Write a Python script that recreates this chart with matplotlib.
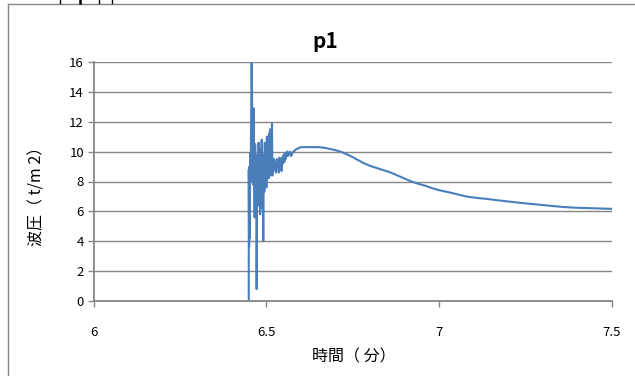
import matplotlib
matplotlib.use("Agg")
import matplotlib.pyplot as plt
from matplotlib.lines import Line2D

plt.rcParams['font.family'] = ['Noto Sans CJK JP', 'DejaVu Sans']

# Wave pressure record p1: time (minutes) vs pressure (t/m2)
time_min = [
    6.4490, 6.4491, 6.4500, 6.4510, 6.4520, 6.4532, 6.4545, 6.4560, 6.4575,
    6.4585, 6.4595, 6.4605, 6.4618, 6.4630, 6.4645, 6.4660, 6.4675, 6.4690,
    6.4705, 6.4718, 6.4730, 6.4745, 6.4760, 6.4775, 6.4790, 6.4805, 6.4820,
    6.4835, 6.4850, 6.4865, 6.4880, 6.4895, 6.4910, 6.4925, 6.4940, 6.4955,
    6.4970, 6.4985, 6.5000, 6.5015, 6.5030, 6.5045, 6.5060, 6.5075, 6.5090,
    6.5105, 6.5120, 6.5135, 6.5150, 6.5163, 6.5175, 6.5190, 6.5205, 6.5220,
    6.5240, 6.5260, 6.5280, 6.5300, 6.5320, 6.5340, 6.5360, 6.5380, 6.5400,
    6.5420, 6.5440, 6.5460, 6.5480, 6.5500, 6.5520, 6.5540, 6.5560, 6.5580,
    6.5600, 6.5620, 6.5650, 6.5680, 6.5710, 6.5740, 6.5770, 6.5800, 6.5830,
    6.5860, 6.5900, 6.5950, 6.6000, 6.6100, 6.6200, 6.6300, 6.6400, 6.6500,
    6.6600, 6.6700, 6.6800, 6.6900, 6.7000, 6.7100, 6.7200, 6.7300, 6.7400,
    6.7500, 6.7600, 6.7700, 6.7800, 6.7900, 6.8000, 6.8200, 6.8400, 6.8600,
    6.8800, 6.9000, 6.9200, 6.9400, 6.9600, 6.9800, 7.0000, 7.0300, 7.0600,
    7.0800, 7.1100, 7.1400, 7.1700, 7.2000, 7.2400, 7.2800, 7.3200, 7.3600,
    7.4000, 7.4400, 7.4800, 7.5000,
]
pressure = [
    0.0, 8.8, 3.6, 9.0, 4.2, 9.9, 8.0, 12.5, 16.0,
    13.8, 9.0, 11.5, 7.8, 12.9, 9.2, 5.6, 10.5, 6.0,
    9.6, 0.8, 5.8, 9.8, 6.4, 10.6, 7.2, 10.2, 5.8,
    9.4, 7.0, 10.8, 6.2, 9.5, 4.0, 9.8, 7.3, 10.6,
    8.0, 10.3, 7.6, 11.0, 8.6, 10.5, 8.2, 11.2, 8.8,
    11.5, 8.4, 10.4, 9.0, 11.9, 8.4, 9.4, 8.7, 9.5,
    8.8, 9.3, 8.6, 9.5, 9.0, 9.4, 8.6, 9.6, 9.1,
    9.4, 8.7, 9.6, 9.2, 9.8, 9.3, 9.9, 9.5, 9.7,
    10.0, 9.7, 9.9, 10.0, 9.7, 9.8, 10.0, 10.0, 10.1,
    10.15, 10.2, 10.25, 10.3, 10.3, 10.3, 10.3, 10.3, 10.3,
    10.28, 10.25, 10.2, 10.15, 10.1, 10.03, 9.95, 9.85, 9.75,
    9.63, 9.5, 9.38, 9.25, 9.15, 9.05, 8.9, 8.75, 8.6,
    8.4, 8.2, 8.0, 7.85, 7.72, 7.55, 7.42, 7.27, 7.1,
    6.99, 6.9, 6.83, 6.74, 6.66, 6.56, 6.47, 6.38, 6.29,
    6.24, 6.21, 6.18, 6.17,
]

x_ticks = [6, 6.5, 7, 7.5]
x_tick_labels = ['6', '6.5', '7', '7.5']
y_ticks = [0, 2, 4, 6, 8, 10, 12, 14, 16]

W, H = 635, 376
fig = plt.figure(figsize=(W / 100, H / 100), dpi=100)
fig.patch.set_facecolor('white')

ax = fig.add_axes([93.7 / W, 1 - 301 / H, (611.7 - 93.7) / W, (301 - 62) / H])
ax.plot(time_min, pressure, color='#4A7EBB', lw=1.5, solid_joinstyle='round')

ax.set_xlim(6, 7.5)
ax.set_ylim(0, 16)
ax.set_xticks(x_ticks)
ax.set_xticklabels(x_tick_labels)
ax.set_yticks(y_ticks)

grid_c = '#868686'
ax.yaxis.grid(True, color=grid_c, lw=1.0)
ax.xaxis.grid(False)
ax.set_axisbelow(True)
for side in ('top', 'right'):
    ax.spines[side].set_visible(False)
for side in ('left', 'bottom'):
    ax.spines[side].set_color(grid_c)
    ax.spines[side].set_linewidth(1.3)
ax.tick_params(axis='both', colors=grid_c, labelcolor='black', length=4,
               width=1.0, labelsize=9.5)
ax.tick_params(axis='x', pad=14)
ax.tick_params(axis='y', pad=3)

fig.text(325 / W, 1 - 42 / H, 'p1', ha='center', va='center',
         fontsize=15, fontweight='bold')
fig.text(354 / W, 1 - 357 / H, '時間（ 分）', ha='center', va='center',
         fontsize=11.5)
fig.text(36.5 / W, 1 - 192 / H, '波圧（ t/m 2）', ha='center', va='center',
         rotation=90, fontsize=11.5)

# chart frame (top and left edges)
fig.add_artist(Line2D([8 / W, 1.0], [1 - 4 / H, 1 - 4 / H],
                      transform=fig.transFigure, color=grid_c, lw=1.0))
fig.add_artist(Line2D([8 / W, 8 / W], [1 - 4 / H, 0.0],
                      transform=fig.transFigure, color=grid_c, lw=1.0))
# small marks along the top edge
for xm, w in ((60, 1.0), (80, 1.8), (99, 1.0), (112, 1.0)):
    fig.add_artist(Line2D([xm / W, xm / W], [1.0, 1 - 3 / H],
                          transform=fig.transFigure, color='black', lw=w))

fig.savefig('out.png', dpi=100, facecolor='white')
